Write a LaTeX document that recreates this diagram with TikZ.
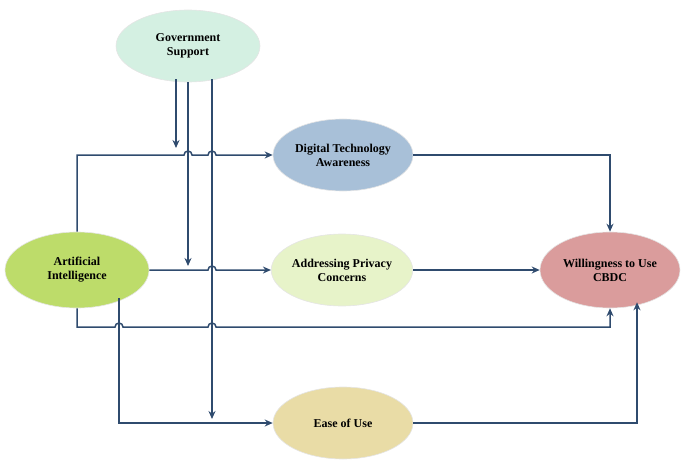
\documentclass[tikz,border=0pt]{standalone}
\usepackage{fontspec}
\setmainfont{Liberation Serif}
\usetikzlibrary{arrows.meta,shapes.geometric,calc}
\definecolor{ln}{HTML}{2F4B6E}
\definecolor{cgov}{HTML}{D4F0E2}
\definecolor{cdta}{HTML}{A8C0D8}
\definecolor{capc}{HTML}{E7F3C9}
\definecolor{ceas}{HTML}{E9DCA6}
\definecolor{cai}{HTML}{BDDC6A}
\definecolor{cwil}{HTML}{DA9C9C}
\tikzset{
  el/.style={ellipse, draw=white!80!gray, line width=0.6pt, minimum width=144pt, minimum height=72pt, align=center, font=\fontsize{12}{14}\selectfont\bfseries, inner sep=0pt},
  conn/.style={draw=ln, line width=1.5pt, -{Stealth[length=8pt,width=7pt]}},
}
\begin{document}
\begin{tikzpicture}[x=1pt,y=-1pt]
\useasboundingbox (0,0) rectangle (685,468);
\node[el, fill=cgov] (gov) at (188,46) {Government\\Support};
\node[el, fill=cdta, minimum width=140pt] (dta) at (343,155) {Digital Technology\\Awareness};
\node[el, fill=capc, minimum width=140pt] (apc) at (342,270) {Addressing Privacy\\Concerns};
\node[el, fill=ceas, minimum width=140pt] (eas) at (343,423) {Ease of Use};
\node[el, fill=cai, minimum height=76pt] (ai) at (77,270) {Artificial\\Intelligence};
\node[el, fill=cwil, minimum width=140pt, minimum height=76pt] (wil) at (610,270) {Willingness to Use\\CBDC};
\coordinate (g1) at ($(gov.south)+(-12,-3)$);
\coordinate (g2) at ($(gov.south)+(0,0)$);
\coordinate (g3) at ($(gov.south)+(24,-3)$);
\coordinate (a2) at ($(ai.south)+(42,-10)$);
\coordinate (w2) at ($(wil.south)+(27,-6)$);
% AI -> DTA
\draw[conn] (ai.north) -- (ai.north |- 0,155) -- (184,155) arc(180:360:4) -- (208,155) arc(180:360:4) -- (dta.west);
% AI -> APC
\draw[conn] (ai.east) -- (208,270) arc(180:360:4) -- (apc.west);
% AI -> Wil bottom
\draw[conn] (ai.south) -- (ai.south |- 0,327) -- (115,327) arc(180:360:4) -- (208,327) arc(180:360:4) -- (wil.south |- 0,327) -- (wil.south);
% AI -> Ease
\draw[conn] (a2) -- (a2 |- 0,423) -- (eas.west);
% Gov moderators
\draw[conn] (g1) -- (g1 |- 0,148);
\draw[conn] (g2) -- (g2 |- 0,266);
\draw[conn] (g3) -- (g3 |- 0,419);
% outcomes
\draw[conn] (dta.east) -- (wil.north |- 0,155) -- (wil.north);
\draw[conn] (apc.east) -- (wil.west);
\draw[conn] (eas.east) -- (w2 |- 0,423) -- (w2);
\end{tikzpicture}
\end{document}
